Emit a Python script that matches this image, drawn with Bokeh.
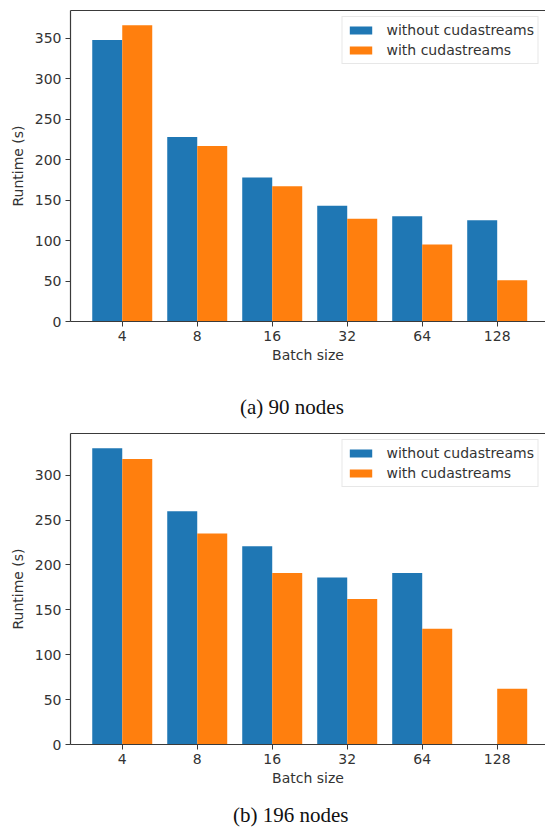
from bokeh.plotting import figure
from bokeh.models import FixedTicker, LinearAxis, Legend, LegendItem, Div, Range1d, ColumnDataSource
from bokeh.layouts import column
from bokeh.embed import file_html
from bokeh.resources import INLINE

batch_labels = ["4", "8", "16", "32", "64", "128"]
a_without = [348, 228, 178, 143, 130, 125]
a_with = [366, 217, 167, 127, 95, 51]
b_without = [330, 260, 221, 186, 191, float("nan")]
b_with = [318, 235, 191, 162, 129, 62]
a_yticks = [0, 50, 100, 150, 200, 250, 300, 350]
b_yticks = [0, 50, 100, 150, 200, 250, 300]
captions = ["(a) 90 nodes", "(b) 196 nodes"]
series_names = ["without cudastreams", "with cudastreams"]

BLUE = "#1f77b4"
ORANGE = "#ff7f0e"
AX = "#3a3a3a"
TXT = "#333333"
FONT = "DejaVu Sans"


def panel(without, with_, yticks, height, border_top, border_bottom):
    ymax = max(max(v for v in without if v == v), max(with_)) * 1.05
    p = figure(width=545, height=height, x_range=Range1d(-0.69, 5.644),
               y_range=Range1d(0, ymax), output_backend="svg",
               toolbar_location=None, min_border_left=70, min_border_right=0,
               min_border_top=border_top, min_border_bottom=border_bottom)
    p.outline_line_color = None
    p.xgrid.visible = False
    p.ygrid.visible = False
    xs = list(range(len(batch_labels)))
    src = ColumnDataSource(dict(
        xb=[x - 0.2 for x in xs], xo=[x + 0.2 for x in xs],
        wo=without, wi=with_))
    r1 = p.vbar(x="xb", top="wo", width=0.4, source=src, fill_color=BLUE, line_color=None)
    r2 = p.vbar(x="xo", top="wi", width=0.4, source=src, fill_color=ORANGE, line_color=None)

    for ax in (p.xaxis[0], p.yaxis[0]):
        ax.axis_line_color = AX
        ax.axis_line_width = 1.2
        ax.major_tick_line_color = AX
        ax.major_tick_out = 5
        ax.major_tick_in = 0
        ax.minor_tick_line_color = None
        ax.major_label_text_font = FONT
        ax.major_label_text_font_size = "14px"
        ax.major_label_text_color = TXT
        ax.axis_label_text_font = FONT
        ax.axis_label_text_font_size = "14px"
        ax.axis_label_text_font_style = "normal"
        ax.axis_label_text_color = TXT
    p.xaxis.ticker = FixedTicker(ticks=xs)
    p.xaxis.major_label_overrides = {i: s for i, s in enumerate(batch_labels)}
    p.xaxis.axis_label = "Batch size"
    p.xaxis.major_label_standoff = 4
    p.xaxis.axis_label_standoff = 3
    p.yaxis.ticker = FixedTicker(ticks=yticks)
    p.yaxis.axis_label = "Runtime (s)"
    p.yaxis.major_label_standoff = 4
    p.yaxis.axis_label_standoff = 6

    top = LinearAxis(ticker=FixedTicker(ticks=[]), axis_line_color=AX, axis_line_width=1.2,
                     major_tick_line_color=None, minor_tick_line_color=None,
                     major_label_text_font_size="0px", major_label_standoff=0,
                     major_tick_out=0, major_tick_in=0)
    p.add_layout(top, "above")

    leg = Legend(items=[LegendItem(label=series_names[0], renderers=[r1]),
                        LegendItem(label=series_names[1], renderers=[r2])],
                 location="top_right", margin=6, padding=4, spacing=2,
                 glyph_width=28, glyph_height=10, label_standoff=12, label_height=18,
                 label_text_font=FONT, label_text_font_size="14px", label_text_color=TXT,
                 border_line_color="#d0d0d0", border_line_width=1,
                 background_fill_alpha=0.8)
    p.add_layout(leg)
    return p


def caption(text, height, lh, pad):
    return Div(text=text, width=545, height=height, margin=0,
               styles={"font-family": "Liberation Serif", "font-size": "21px",
                       "line-height": f"{lh}px", "padding-left": f"{pad}px",
                       "color": "#111111", "white-space": "nowrap",
                       "overflow": "visible"})


p1 = panel(a_without, a_with, a_yticks, 383, 10, 62)
p2 = panel(b_without, b_with, b_yticks, 372, 8, 53)
d1 = caption(captions[0], 42, 48, 240)
d2 = caption(captions[1], 32, 36, 233)
p1.margin = 0
p2.margin = 0
lay = column(p1, d1, p2, d2, spacing=0)

open("out.html", "w").write(file_html(lay, INLINE))
